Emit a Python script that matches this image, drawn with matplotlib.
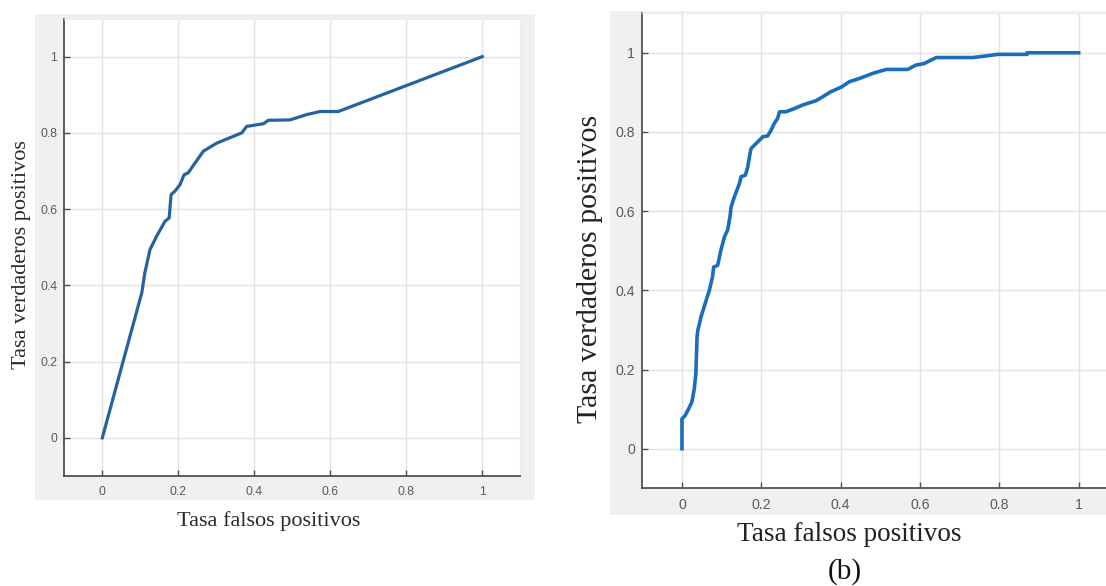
import matplotlib
matplotlib.use("Agg")
import matplotlib.pyplot as plt
from matplotlib.patches import Rectangle

# ROC curve (a): false positive rate / true positive rate
fpr_a = [0.0, 0.104, 0.112, 0.1255, 0.143, 0.165, 0.176, 0.181, 0.191, 0.2045,
         0.215, 0.226, 0.244, 0.266, 0.301, 0.345, 0.367, 0.380, 0.424, 0.437,
         0.494, 0.538, 0.573, 0.621, 1.0]
tpr_a = [0.0, 0.381, 0.433, 0.494, 0.529, 0.568, 0.577, 0.638, 0.647, 0.664,
         0.690, 0.695, 0.721, 0.752, 0.773, 0.791, 0.800, 0.817, 0.824, 0.833,
         0.834, 0.848, 0.856, 0.856, 1.0]

# ROC curve (b)
fpr_b = [0.0, 0.0, 0.008, 0.017, 0.025, 0.031, 0.035, 0.038, 0.040, 0.048,
         0.061, 0.069, 0.077, 0.080, 0.090, 0.098, 0.107, 0.115, 0.121, 0.124,
         0.132, 0.145, 0.149, 0.160, 0.166, 0.170, 0.174, 0.191, 0.204, 0.216,
         0.225, 0.233, 0.241, 0.246, 0.262, 0.283, 0.304, 0.338, 0.355, 0.376,
         0.401, 0.422, 0.447, 0.481, 0.515, 0.569, 0.590, 0.611, 0.641, 0.733,
         0.766, 0.796, 0.870, 0.870, 1.0]
tpr_b = [0.0, 0.075, 0.084, 0.101, 0.118, 0.151, 0.189, 0.283, 0.299, 0.333,
         0.375, 0.400, 0.434, 0.459, 0.463, 0.501, 0.535, 0.552, 0.586, 0.611,
         0.636, 0.670, 0.687, 0.691, 0.712, 0.737, 0.758, 0.775, 0.788, 0.790,
         0.805, 0.822, 0.834, 0.851, 0.851, 0.859, 0.868, 0.879, 0.889, 0.902,
         0.913, 0.927, 0.935, 0.948, 0.958, 0.958, 0.969, 0.973, 0.988, 0.988,
         0.992, 0.996, 0.996, 1.0, 1.0]

ticks = [0, 0.2, 0.4, 0.6, 0.8, 1]
tick_labels = ["0", "0.2", "0.4", "0.6", "0.8", "1"]
xlabel = "Tasa falsos positivos"
ylabel = "Tasa verdaderos positivos"
panel_tag = "(b)"

W, H = 1106, 586
fig = plt.figure(figsize=(W / 100, H / 100), dpi=100)
fig.patch.set_facecolor("white")


def px_rect(x0, y0, x1, y1):
    """Figure-fraction rectangle from pixel corners (y measured from top)."""
    return [x0 / W, 1 - y1 / H, (x1 - x0) / W, (y1 - y0) / H]


# light gray figure-style panels behind each axes
for (x0, y0, x1, y1) in [(35, 14, 535, 500), (610, 11, 1110, 515)]:
    l, b, w, h = px_rect(x0, y0, x1, y1)
    fig.patches.append(Rectangle((l, b), w, h, transform=fig.transFigure,
                                 facecolor="#f0f0f0", edgecolor="none", zorder=-10))

ax_a = fig.add_axes(px_rect(64.3, 18.5, 520.3, 476.0))
ax_b = fig.add_axes(px_rect(642.3, 13.2, 1118.3, 488.3))


def style(ax, tick_fs, pad_x, pad_y):
    ax.set_facecolor("white")
    ax.set_xlim(-0.1, 1.1)
    ax.set_ylim(-0.1, 1.1)
    ax.set_xticks(ticks)
    ax.set_xticklabels(tick_labels)
    ax.set_yticks(ticks)
    ax.set_yticklabels(tick_labels)
    ax.grid(True, color="#e2e2e2", linewidth=1.0)
    ax.set_axisbelow(True)
    for side in ("left", "bottom"):
        ax.spines[side].set_color("#505050")
        ax.spines[side].set_linewidth(1.3)
    for side in ("top", "right"):
        ax.spines[side].set_color("#ececec")
        ax.spines[side].set_linewidth(0.8)
    ax.tick_params(axis="both", direction="in", length=4, width=1,
                   color="#505050", labelcolor="#5a5a5a", labelsize=tick_fs)
    ax.tick_params(axis="x", pad=pad_x)
    ax.tick_params(axis="y", pad=pad_y)
    for lab in ax.get_xticklabels() + ax.get_yticklabels():
        lab.set_fontfamily("Liberation Sans")


style(ax_a, 8.8, 7, 5)
style(ax_b, 10.2, 7, 5)

ax_a.plot(fpr_a, tpr_a, color="#2563a0", linewidth=2.3, solid_joinstyle="round")
ax_b.plot(fpr_b, tpr_b, color="#1a6dbd", linewidth=2.6, solid_joinstyle="round")

serif = "Liberation Serif"
ax_a.set_xlabel(xlabel, family=serif, fontsize=16, color="#2a2a2a", va="center")
ax_a.xaxis.set_label_coords(0.4476, -0.099)
ax_a.set_ylabel(ylabel, family=serif, fontsize=16, color="#2a2a2a", va="center")
ax_a.yaxis.set_label_coords(-0.0943, 0.484)

ax_b.set_xlabel(xlabel, family=serif, fontsize=19.5, color="#222222", va="center")
ax_b.xaxis.set_label_coords(0.4357, -0.0962)
ax_b.set_ylabel(ylabel, family=serif, fontsize=21.5, color="#222222", va="center")
ax_b.yaxis.set_label_coords(-0.1107, 0.461)

fig.text(845 / W, 1 - 572 / H, panel_tag, family=serif, fontsize=21,
         color="#111111", ha="center", va="center")

fig.savefig("out.png", dpi=100)
